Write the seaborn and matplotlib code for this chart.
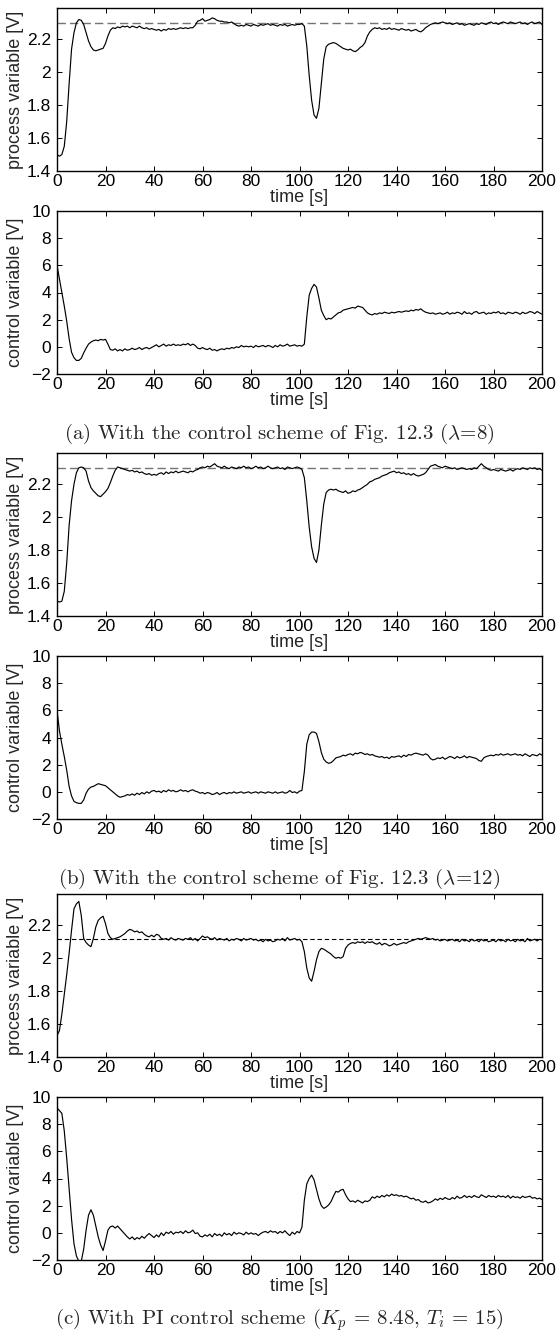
import numpy as np
import pandas as pd
import matplotlib
matplotlib.use("Agg")
import matplotlib.pyplot as plt
import seaborn as sns

# ---------------------------------------------------------------- data
TIME = np.arange(0, 201)  # sample instants [s]

PV_A = [
    1.50, 1.49, 1.50, 1.55, 1.70, 1.93, 2.14, 2.24, 2.30, 2.32,
    2.315, 2.29, 2.24, 2.19, 2.155, 2.135, 2.13, 2.135, 2.14, 2.145,
    2.175, 2.22, 2.255, 2.27, 2.265, 2.275, 2.27, 2.28, 2.275, 2.28,
    2.27, 2.28, 2.275, 2.27, 2.28, 2.27, 2.265, 2.27, 2.26, 2.265,
    2.26, 2.255, 2.26, 2.25, 2.26, 2.255, 2.265, 2.26, 2.265, 2.26,
    2.265, 2.27, 2.265, 2.27, 2.265, 2.27, 2.27, 2.285, 2.31, 2.315,
    2.325, 2.31, 2.315, 2.32, 2.33, 2.325, 2.315, 2.31, 2.31, 2.305,
    2.305, 2.30, 2.305, 2.295, 2.285, 2.28, 2.285, 2.28, 2.29, 2.285,
    2.28, 2.29, 2.285, 2.28, 2.29, 2.285, 2.29, 2.295, 2.285, 2.29,
    2.285, 2.28, 2.29, 2.285, 2.29, 2.28, 2.285, 2.29, 2.285, 2.29,
    2.29, 2.295, 2.28, 2.16, 1.98, 1.83, 1.74, 1.72, 1.78, 1.93,
    2.08, 2.155, 2.17, 2.175, 2.18, 2.175, 2.165, 2.155, 2.145, 2.14,
    2.135, 2.14, 2.13, 2.125, 2.135, 2.15, 2.16, 2.18, 2.22, 2.245,
    2.26, 2.27, 2.265, 2.27, 2.26, 2.265, 2.26, 2.27, 2.26, 2.265,
    2.26, 2.255, 2.265, 2.26, 2.255, 2.26, 2.25, 2.255, 2.26, 2.25,
    2.245, 2.255, 2.27, 2.28, 2.29, 2.295, 2.30, 2.295, 2.30, 2.305,
    2.30, 2.295, 2.30, 2.29, 2.295, 2.30, 2.29, 2.295, 2.285, 2.29,
    2.295, 2.29, 2.285, 2.295, 2.29, 2.30, 2.295, 2.29, 2.30, 2.305,
    2.295, 2.30, 2.29, 2.30, 2.305, 2.30, 2.295, 2.305, 2.30, 2.295,
    2.30, 2.305, 2.295, 2.30, 2.29, 2.30, 2.305, 2.295, 2.30, 2.305, 2.29,
]

CV_A = [
    6.0, 5.0, 4.0, 3.0, 1.9, 0.6, -0.4, -0.8, -1.0, -1.0,
    -0.85, -0.45, -0.1, 0.2, 0.35, 0.45, 0.5, 0.45, 0.55, 0.5,
    0.55, 0.2, -0.2, -0.25, -0.15, -0.3, -0.2, -0.3, -0.15, -0.25,
    -0.2, -0.1, -0.2, -0.15, -0.05, -0.2, -0.1, -0.05, -0.15, -0.05,
    0.05, 0.15, 0.0, 0.1, 0.2, 0.05, 0.15, 0.1, 0.2, 0.1,
    0.15, 0.1, 0.2, 0.15, 0.25, 0.1, 0.2, 0.1, -0.1, -0.15,
    -0.05, -0.15, -0.2, -0.1, -0.25, -0.2, -0.3, -0.2, -0.15, -0.2,
    -0.1, -0.15, -0.05, -0.1, 0.0, -0.05, 0.1, 0.0, 0.05, 0.0,
    0.05, -0.05, 0.1, 0.0, 0.05, 0.1, 0.0, 0.1, 0.05, -0.05,
    0.1, 0.0, 0.15, 0.05, 0.1, 0.2, 0.05, 0.1, 0.15, 0.05,
    0.1, 0.05, 0.2, 2.2, 3.8, 4.3, 4.6, 4.4, 3.6, 2.7,
    2.3, 2.0, 2.1, 2.05, 2.2, 2.35, 2.5, 2.55, 2.7, 2.75,
    2.8, 2.85, 2.9, 2.85, 3.0, 2.95, 2.9, 2.7, 2.5, 2.4,
    2.35, 2.45, 2.4, 2.5, 2.45, 2.55, 2.5, 2.45, 2.55, 2.5,
    2.55, 2.6, 2.55, 2.6, 2.65, 2.6, 2.7, 2.65, 2.75, 2.7,
    2.8, 2.65, 2.55, 2.5, 2.45, 2.5, 2.4, 2.45, 2.5, 2.4,
    2.45, 2.55, 2.4, 2.5, 2.45, 2.55, 2.5, 2.4, 2.6, 2.45,
    2.5, 2.4, 2.55, 2.6, 2.45, 2.5, 2.55, 2.4, 2.5, 2.45,
    2.55, 2.5, 2.6, 2.45, 2.5, 2.4, 2.55, 2.5, 2.45, 2.55,
    2.5, 2.4, 2.55, 2.45, 2.5, 2.6, 2.55, 2.45, 2.6, 2.5, 2.4,
]

PV_B = [
    1.49, 1.485, 1.49, 1.55, 1.72, 1.95, 2.10, 2.20, 2.27, 2.30,
    2.305, 2.30, 2.28, 2.22, 2.18, 2.16, 2.145, 2.13, 2.125, 2.14,
    2.155, 2.175, 2.21, 2.25, 2.285, 2.305, 2.30, 2.295, 2.29, 2.285,
    2.28, 2.285, 2.275, 2.28, 2.27, 2.275, 2.265, 2.26, 2.265, 2.255,
    2.26, 2.255, 2.265, 2.27, 2.26, 2.275, 2.265, 2.275, 2.27, 2.28,
    2.27, 2.275, 2.28, 2.275, 2.27, 2.28, 2.275, 2.285, 2.29, 2.30,
    2.305, 2.30, 2.31, 2.305, 2.315, 2.325, 2.31, 2.305, 2.30, 2.31,
    2.30, 2.295, 2.305, 2.30, 2.295, 2.305, 2.30, 2.31, 2.30, 2.305,
    2.295, 2.30, 2.31, 2.30, 2.305, 2.295, 2.30, 2.31, 2.30, 2.295,
    2.30, 2.305, 2.295, 2.30, 2.29, 2.305, 2.30, 2.295, 2.30, 2.305,
    2.30, 2.29, 2.24, 2.10, 1.94, 1.82, 1.75, 1.725, 1.80, 1.95,
    2.08, 2.15, 2.165, 2.17, 2.165, 2.17, 2.16, 2.155, 2.15, 2.16,
    2.145, 2.15, 2.16, 2.155, 2.165, 2.17, 2.18, 2.19, 2.20, 2.215,
    2.22, 2.23, 2.235, 2.24, 2.25, 2.255, 2.26, 2.27, 2.275, 2.28,
    2.27, 2.275, 2.265, 2.27, 2.26, 2.265, 2.255, 2.265, 2.255, 2.25,
    2.255, 2.26, 2.27, 2.29, 2.31, 2.315, 2.32, 2.31, 2.305, 2.30,
    2.31, 2.305, 2.30, 2.295, 2.30, 2.29, 2.295, 2.30, 2.295, 2.29,
    2.295, 2.29, 2.30, 2.295, 2.31, 2.325, 2.31, 2.30, 2.29, 2.285,
    2.29, 2.285, 2.28, 2.29, 2.285, 2.28, 2.285, 2.29, 2.28, 2.29,
    2.295, 2.29, 2.30, 2.295, 2.29, 2.30, 2.295, 2.30, 2.29, 2.295, 2.285,
]

CV_B = [
    6.0, 4.5, 3.5, 2.6, 1.6, 0.4, -0.3, -0.7, -0.8, -0.85,
    -0.85, -0.6, -0.1, 0.2, 0.35, 0.4, 0.5, 0.6, 0.55, 0.5,
    0.45, 0.3, 0.15, 0.0, -0.15, -0.3, -0.4, -0.35, -0.3, -0.2,
    -0.25, -0.15, -0.25, -0.1, -0.2, -0.05, -0.15, 0.0, -0.1, 0.05,
    0.1, 0.0, 0.05, -0.05, 0.1, 0.0, 0.15, 0.05, 0.1, 0.0,
    0.05, 0.15, 0.05, 0.1, 0.0, 0.1, 0.15, 0.05, 0.0, -0.1,
    -0.05, -0.15, -0.05, -0.1, -0.2, -0.15, -0.05, -0.2, -0.1, -0.05,
    -0.15, -0.05, -0.1, 0.0, -0.1, -0.05, 0.0, -0.1, -0.05, 0.0,
    -0.1, -0.05, 0.0, -0.1, 0.0, -0.05, -0.1, 0.0, -0.05, -0.1,
    0.0, -0.1, -0.05, 0.0, -0.1, -0.05, 0.1, -0.05, 0.0, -0.1,
    0.05, 0.1, 1.5, 3.5, 4.2, 4.4, 4.4, 4.3, 3.7, 2.9,
    2.4, 2.2, 2.1, 2.15, 2.3, 2.5, 2.55, 2.6, 2.7, 2.65,
    2.75, 2.8, 2.7, 2.85, 2.8, 2.9, 2.85, 2.75, 2.8, 2.7,
    2.75, 2.65, 2.6, 2.55, 2.6, 2.5, 2.55, 2.45, 2.6, 2.55,
    2.6, 2.65, 2.55, 2.7, 2.6, 2.75, 2.7, 2.8, 2.85, 2.8,
    2.75, 2.7, 2.8, 2.7, 2.45, 2.35, 2.4, 2.5, 2.45, 2.55,
    2.4, 2.5, 2.6, 2.55, 2.45, 2.6, 2.5, 2.55, 2.65, 2.5,
    2.6, 2.55, 2.5, 2.45, 2.3, 2.25, 2.5, 2.6, 2.65, 2.7,
    2.65, 2.75, 2.7, 2.8, 2.7, 2.75, 2.8, 2.7, 2.75, 2.8,
    2.7, 2.75, 2.65, 2.8, 2.7, 2.6, 2.75, 2.7, 2.65, 2.8, 2.7,
]

PV_C = [
    1.53, 1.56, 1.66, 1.78, 1.90, 2.03, 2.17, 2.30, 2.33, 2.345,
    2.26, 2.12, 2.095, 2.08, 2.07, 2.12, 2.19, 2.23, 2.245, 2.255,
    2.21, 2.15, 2.125, 2.115, 2.12, 2.125, 2.13, 2.14, 2.15, 2.165,
    2.175, 2.17, 2.16, 2.165, 2.155, 2.16, 2.145, 2.135, 2.13, 2.14,
    2.13, 2.145, 2.14, 2.12, 2.115, 2.12, 2.11, 2.125, 2.115, 2.11,
    2.12, 2.115, 2.11, 2.12, 2.115, 2.125, 2.11, 2.12, 2.105, 2.12,
    2.135, 2.125, 2.13, 2.12, 2.115, 2.125, 2.11, 2.12, 2.115, 2.11,
    2.12, 2.105, 2.115, 2.11, 2.12, 2.115, 2.105, 2.12, 2.11, 2.115,
    2.12, 2.11, 2.115, 2.105, 2.11, 2.10, 2.115, 2.105, 2.11, 2.10,
    2.105, 2.115, 2.11, 2.12, 2.105, 2.125, 2.11, 2.115, 2.12, 2.11,
    2.115, 2.10, 2.04, 1.94, 1.88, 1.86, 1.92, 1.99, 2.04, 2.06,
    2.055, 2.045, 2.035, 2.025, 2.01, 2.00, 2.005, 2.00, 2.01, 2.06,
    2.08, 2.09, 2.095, 2.09, 2.10, 2.095, 2.10, 2.09, 2.10, 2.095,
    2.10, 2.09, 2.085, 2.095, 2.08, 2.09, 2.085, 2.075, 2.08, 2.09,
    2.08, 2.085, 2.09, 2.095, 2.09, 2.10, 2.105, 2.11, 2.115, 2.12,
    2.115, 2.12, 2.125, 2.12, 2.115, 2.12, 2.11, 2.115, 2.105, 2.11,
    2.115, 2.105, 2.11, 2.115, 2.105, 2.11, 2.10, 2.115, 2.105, 2.11,
    2.10, 2.115, 2.105, 2.11, 2.10, 2.115, 2.105, 2.11, 2.10, 2.105,
    2.11, 2.10, 2.115, 2.105, 2.11, 2.10, 2.115, 2.105, 2.11, 2.10,
    2.115, 2.105, 2.11, 2.10, 2.12, 2.105, 2.11, 2.115, 2.105, 2.115, 2.11,
]

CV_C = [
    9.2, 9.0, 8.8, 7.5, 5.5, 3.2, 1.0, -0.8, -1.7, -2.1,
    -2.1, -1.2, 0.2, 1.3, 1.7, 1.3, 0.5, -0.3, -0.9, -1.3,
    -0.6, 0.2, 0.45, 0.5, 0.35, 0.5, 0.3, 0.1, -0.1, -0.3,
    -0.45, -0.3, -0.5, -0.35, -0.45, -0.25, -0.4, -0.2, -0.05, -0.2,
    -0.35, -0.15, -0.3, 0.0, -0.2, 0.05, -0.05, 0.1, -0.1, 0.05,
    0.0, 0.1, -0.05, 0.15, 0.0, 0.05, 0.2, -0.05, 0.0, -0.25,
    -0.3, -0.15, -0.25, -0.1, -0.3, -0.05, -0.2, -0.1, -0.25, 0.0,
    -0.15, -0.05, -0.2, 0.05, -0.1, 0.0, -0.05, -0.15, 0.05, -0.1,
    0.0, -0.1, -0.05, -0.2, -0.05, 0.05, 0.1, 0.0, 0.15, 0.05,
    0.1, -0.05, 0.1, 0.0, 0.15, -0.05, -0.2, 0.05, -0.1, 0.1,
    0.0, 0.4, 2.4, 3.6, 4.0, 4.25, 3.9, 3.2, 2.5, 2.0,
    1.8, 1.9, 2.05, 2.3, 2.7, 3.05, 3.0, 3.15, 3.2, 2.8,
    2.5, 2.3, 2.35, 2.25, 2.4, 2.3, 2.2, 2.35, 2.3, 2.4,
    2.65, 2.55, 2.7, 2.6, 2.75, 2.65, 2.8, 2.7, 2.85, 2.75,
    2.8, 2.7, 2.75, 2.65, 2.7, 2.6, 2.5, 2.55, 2.4, 2.45,
    2.3, 2.25, 2.35, 2.2, 2.25, 2.35, 2.5, 2.4, 2.55, 2.45,
    2.6, 2.5, 2.45, 2.6, 2.5, 2.7, 2.55, 2.6, 2.75, 2.6,
    2.7, 2.6, 2.75, 2.65, 2.6, 2.8, 2.7, 2.6, 2.75, 2.65,
    2.7, 2.6, 2.75, 2.65, 2.7, 2.6, 2.75, 2.55, 2.7, 2.6,
    2.65, 2.55, 2.7, 2.6, 2.65, 2.7, 2.55, 2.6, 2.5, 2.55, 2.45,
]

SETPOINTS = [2.30, 2.30, 2.115]

CAPTIONS = [
    r"(a) With the control scheme of Fig. 12.3 ($\lambda$=8)",
    r"(b) With the control scheme of Fig. 12.3 ($\lambda$=12)",
    r"(c) With PI control scheme ($K_p$ = 8.48, $T_i$ = 15)",
]

X_TICKS = [0, 20, 40, 60, 80, 100, 120, 140, 160, 180, 200]
PV_TICKS = [1.4, 1.6, 1.8, 2.0, 2.2]
PV_TICK_LABELS = ["1.4", "1.6", "1.8", "2", "2.2"]
CV_TICKS = [-2, 0, 2, 4, 6, 8, 10]

# ---------------------------------------------------------------- style
sns.set_style("ticks")
plt.rcParams["font.family"] = ["Liberation Sans", "DejaVu Sans"]
plt.rcParams["mathtext.fontset"] = "cm"
plt.rcParams.update({
    "xtick.direction": "in", "ytick.direction": "in",
    "xtick.top": True, "ytick.right": True,
    "xtick.major.size": 3.5, "ytick.major.size": 3.5,
    "xtick.major.width": 0.7, "ytick.major.width": 0.7,
    "xtick.labelsize": 12.5, "ytick.labelsize": 12.5,
    "axes.labelsize": 13, "axes.linewidth": 1.0,
    "axes.edgecolor": "black", "xtick.color": "black", "ytick.color": "black",
})

W, H = 559, 1336
fig = plt.figure(figsize=(W / 100, H / 100), dpi=100)


def add_axes_px(left, top, width, height):
    return fig.add_axes([left / W, 1 - (top + height) / H, width / W, height / H])


def draw_trace(ax, values):
    df = pd.DataFrame({"time": TIME, "value": values})
    sns.lineplot(data=df, x="time", y="value", ax=ax, color="black",
                 linewidth=0.85, estimator=None)
    ax.set_xlim(0, 200)
    ax.set_xticks(X_TICKS)
    ax.set_xlabel("time [s]", labelpad=0)
    ax.tick_params(axis="x", pad=2.5)
    ax.tick_params(axis="y", pad=4.5)


group_offsets = [0, 445, 886]
pv_series = [PV_A, PV_B, PV_C]
cv_series = [CV_A, CV_B, CV_C]
dash_styles = [("0.45", (6, 3), 1.0), ("0.45", (6, 3), 1.0), ("black", (4, 2.5), 0.8)]

AX_L, AX_W, AX_H = 57, 485, 163

for g, off in enumerate(group_offsets):
    ax_pv = add_axes_px(AX_L, 8 + off, AX_W, AX_H)
    col, dash, lw = dash_styles[g]
    ax_pv.axhline(SETPOINTS[g], color=col, lw=lw, dashes=dash, zorder=1)
    draw_trace(ax_pv, pv_series[g])
    ax_pv.set_ylim(1.4, 2.39)
    ax_pv.set_yticks(PV_TICKS)
    ax_pv.set_yticklabels(PV_TICK_LABELS)
    ax_pv.set_ylabel("process variable [V]")
    ax_pv.yaxis.set_label_coords(-0.068, 0.5)

    ax_cv = add_axes_px(AX_L, 211 + off, AX_W, AX_H)
    draw_trace(ax_cv, cv_series[g])
    ax_cv.set_ylim(-2, 10)
    ax_cv.set_yticks(CV_TICKS)
    ax_cv.set_ylabel("control variable [V]")
    ax_cv.yaxis.set_label_coords(-0.068, 0.5)

    fig.text(0.5, 1 - (434 + off) / H, CAPTIONS[g], ha="center", va="center",
             family="cmr10", fontsize=15)

fig.savefig("out.png", dpi=100)
